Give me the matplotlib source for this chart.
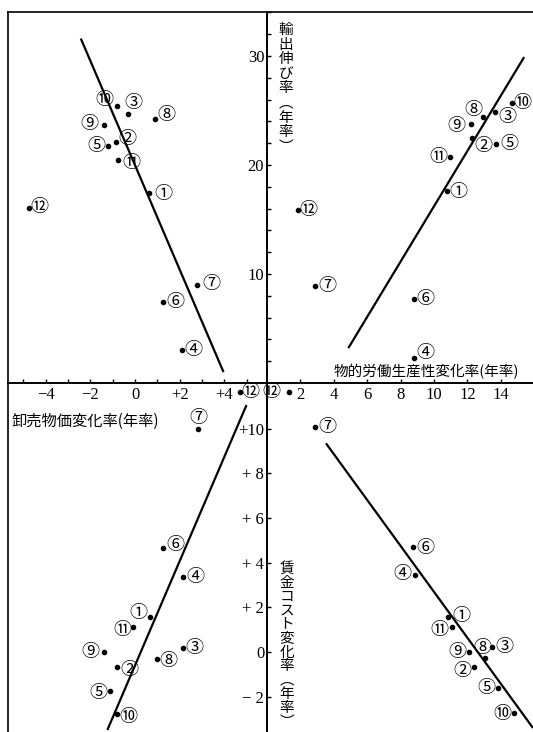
import matplotlib
matplotlib.use("Agg")
import matplotlib.pyplot as plt

plt.rcParams['font.family'] = ['Noto Sans CJK JP', 'DejaVu Sans']

# point labels 1..12
labels = ['①', '②', '③', '④', '⑤', '⑥', '⑦', '⑧', '⑨', '⑩', '⑪', '⑫']

# top-left: wholesale price change (x) vs export growth (y)
tl_x = [0.63, -0.84, -0.31, 2.10, -1.23, 1.26, 2.78, 0.91, -1.40, -0.82, -0.75, -4.77]
tl_y = [17.45, 22.1, 24.7, 3.05, 21.7, 7.45, 8.95, 24.25, 23.7, 25.4, 20.5, 16.05]
tl_line_x = [-2.43, 3.97]
tl_line_y = [31.6, 1.0]

# top-right: labour productivity change (x) vs export growth (y)
tr_x = [10.76, 12.3, 13.65, 8.80, 13.7, 8.80, 2.87, 12.96, 12.2, 14.65, 10.96, 1.88]
tr_y = [17.6, 22.45, 24.9, 2.32, 21.9, 7.68, 8.93, 24.4, 23.8, 25.65, 20.7, 15.9]
tr_line_x = [4.87, 15.4]
tr_line_y = [3.2, 29.9]

# bottom-left: wholesale price change (x) vs wage cost change (y)
bl_x = [0.67, -0.79, 2.13, 2.17, -1.12, 1.27, 2.84, 1.0, -1.38, -0.79, -0.08, 4.71]
bl_y = [1.58, -0.66, 0.19, 3.36, -1.74, 4.65, 10.0, -0.31, -0.01, -2.77, 1.13, 11.62]
bl_line_x = [-1.24, 5.0]
bl_line_y = [-3.49, 11.05]

# bottom-right: labour productivity change (x) vs wage cost change (y)
br_x = [10.86, 12.4, 13.5, 8.86, 13.85, 8.75, 2.87, 13.08, 12.1, 14.8, 11.06, 1.34]
br_y = [1.58, -0.66, 0.21, 3.43, -1.63, 4.71, 10.06, -0.25, 0.01, -2.72, 1.13, 11.62]
br_line_x = [3.53, 15.93]
br_line_y = [9.34, -3.4]

# where each circled label sits relative to its dot (pixels)
tl_off = [(14, -1), (11, 3), (5, 11), (12, 0), (-11, 0), (12, 0), (14, 1), (11, 4),
          (-14, 1), (-12, 6), (13, -3), (11, 1)]
tr_off = [(12, -1), (11, -8), (12, -5), (11, 5), (14, 0), (11, 0), (12, 0), (-10, 7),
          (-14, -2), (11, 0), (-12, 0), (10, 0)]
bl_off = [(-12, 4), (12, -3), (12, 0), (12, 0), (-12, -2), (12, 3), (0, 11), (11, -2),
          (-14, 0), (11, -3), (-11, -3), (10, 0)]
br_off = [(13, 1), (-12, -4), (12, 0), (-13, 1), (-12, 0), (12, -1), (12, 0), (-3, 10),
          (-12, 0), (-12, -1), (-12, -3), (-18, 0)]

W, H = 533, 732
fig = plt.figure(figsize=(W / 100, H / 100), dpi=100)


def box(x0, y0, x1, y1):
    # pixel box measured from the top-left corner of the image
    return [x0 / W, 1 - y1 / H, (x1 - x0) / W, (y1 - y0) / H]


ax_tl = fig.add_axes(box(8, 11.7, 267, 383))
ax_tr = fig.add_axes(box(267, 11.7, 533, 383))
ax_bl = fig.add_axes(box(8, 383, 267, 732))
ax_br = fig.add_axes(box(267, 383, 533, 732))

ax_tl.set_xlim(-5.695, 5.919)
ax_bl.set_xlim(-5.695, 5.919)
ax_tr.set_xlim(0, 15.93)
ax_br.set_xlim(0, 15.93)
ax_tl.set_ylim(0, 34.06)
ax_tr.set_ylim(0, 34.06)
ax_bl.set_ylim(-3.579, 12.036)
ax_br.set_ylim(-3.579, 12.036)

for ax in (ax_tl, ax_tr, ax_bl, ax_br):
    ax.patch.set_visible(False)
    ax.set_xticks([])
    ax.set_yticks([])
    for s in ax.spines.values():
        s.set_linewidth(1.2)
        s.set_color('black')

ax_tr.spines['right'].set_visible(False)
ax_bl.spines['bottom'].set_visible(False)
ax_br.spines['right'].set_visible(False)
ax_br.spines['bottom'].set_visible(False)

tick_kw = dict(direction='in', length=3, width=1.0, color='black',
               labelfontfamily='Liberation Serif', labelsize=12)

# wholesale price axis
ax_tl.set_xticks([-4, -2, 0, 2, 4])
ax_tl.set_xticklabels(['−4', '−2', '0', '+2', '+4'])
ax_tl.set_xticks([-5, -3, -1, 1, 3, 5], minor=True)
ax_tl.tick_params(axis='x', which='both', pad=3, **tick_kw)

# productivity axis
ax_tr.set_xticks([2, 4, 6, 8, 10, 12, 14])
ax_tr.tick_params(axis='x', which='both', pad=3, **tick_kw)

# export growth axis
ax_tr.set_yticks([10, 20, 30])
ax_tr.set_yticks([v for v in range(2, 35, 2) if v % 10], minor=True)
ax_tr.tick_params(axis='y', which='both', pad=2, **tick_kw)

# wage cost axis
ax_br.set_yticks([-2, 0, 2, 4, 6, 8, 10])
ax_br.set_yticklabels(['− 2', '0', '+ 2', '+ 4', '+ 6', '+ 8', '+10'])
ax_br.tick_params(axis='y', which='both', pad=2, **tick_kw)

panels = [
    (ax_tl, tl_x, tl_y, tl_line_x, tl_line_y, tl_off),
    (ax_tr, tr_x, tr_y, tr_line_x, tr_line_y, tr_off),
    (ax_bl, bl_x, bl_y, bl_line_x, bl_line_y, bl_off),
    (ax_br, br_x, br_y, br_line_x, br_line_y, br_off),
]
for ax, xs, ys, lx, ly, offs in panels:
    ax.plot(lx, ly, color='black', lw=1.6, solid_capstyle='butt', clip_on=False)
    ax.plot(xs, ys, 'o', color='black', ms=3, clip_on=False)
    for lab, x, y, off in zip(labels, xs, ys, offs):
        ax.annotate(lab, (x, y), xytext=off, textcoords='offset pixels',
                    ha='center', va='center', fontsize=13, annotation_clip=False)

# axis titles
fig.text(426 / W, 1 - 372 / H, '物的労働生産性変化率(年率)', ha='center', va='center', fontsize=10.5)
fig.text(12 / W, 1 - 421 / H, '卸売物価変化率(年率)', ha='left', va='center', fontsize=11)


def vertical_title(chars, x, y0, step):
    for i, ch in enumerate(chars):
        fig.text(x / W, 1 - (y0 + i * step) / H, ch, ha='center', va='center', fontsize=10.5)


vertical_title('輸出伸び率︵年率︶', 286, 30, 14.6)
vertical_title('賃金コスト変化率︵年率︶', 287, 569, 13.9)

fig.savefig('out.png', dpi=100)
